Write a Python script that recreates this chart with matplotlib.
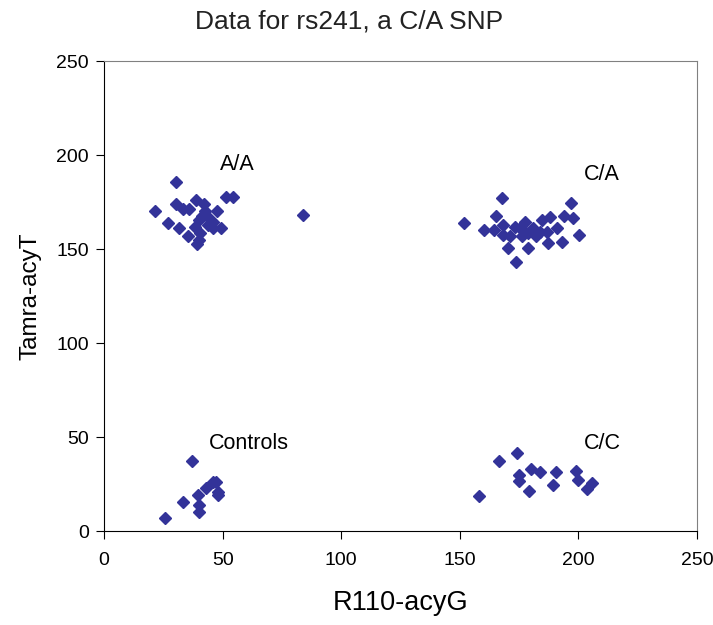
import matplotlib
matplotlib.use("Agg")
import matplotlib.pyplot as plt

plt.rcParams["font.family"] = ["Liberation Sans", "DejaVu Sans"]

# A/A cluster
aa_x = [30.2, 21.5, 30.2, 33.2, 36.0, 38.8, 42.3, 42.5, 47.5, 51.4, 54.2, 27.1, 31.6,
        35.5, 38.4, 40.2, 40.2, 46.1, 46.1, 49.2, 43.3, 41.3, 39.0, 84.0, 40.5, 44.0]
aa_y = [185.8, 170.2, 173.8, 171.3, 171.3, 175.9, 173.8, 170.0, 170.2, 177.5, 177.5, 163.7, 161.3,
        157.1, 161.9, 165.5, 154.8, 164.5, 161.0, 161.0, 167.5, 167.5, 152.5, 168.0, 158.5, 163.0]

# C/A cluster
ca_x = [151.8, 167.9, 165.3, 160.3, 164.5, 168.1, 168.4, 170.5, 173.7, 173.2, 175.4, 177.5,
        178.9, 178.9, 181.0, 183.8, 184.5, 186.6, 188.0, 187.3, 190.8, 193.0, 193.9, 196.8,
        197.6, 200.4, 171.0, 176.0, 182.0]
ca_y = [164.0, 177.0, 167.7, 160.1, 160.1, 162.8, 157.4, 150.4, 142.9, 161.9, 161.0, 164.5,
        158.4, 150.4, 161.0, 159.2, 165.4, 159.2, 167.2, 153.0, 161.0, 153.9, 167.7, 174.3,
        166.3, 157.4, 157.0, 157.0, 157.0]

# Controls
ctl_x = [37.2, 33.4, 25.7, 39.5, 40.2, 40.2, 43.0, 46.1, 47.2, 47.9, 48.1]
ctl_y = [37.4, 15.6, 6.7, 19.1, 13.8, 10.3, 22.7, 26.2, 26.0, 20.9, 19.0]

# C/C cluster
cc_x = [158.1, 166.5, 174.2, 175.1, 175.1, 180.0, 183.8, 179.3, 190.4, 189.4, 198.9, 200.0, 205.6, 203.5]
cc_y = [18.6, 37.4, 41.3, 29.8, 26.7, 32.8, 31.6, 21.4, 31.2, 24.5, 32.1, 27.1, 25.7, 22.2]

labels = ["A/A", "C/A", "Controls", "C/C"]
label_x = [48.9, 202.5, 44.3, 202.5]
label_y = [194.7, 189.4, 46.8, 46.8]

fig = plt.figure(figsize=(7.13, 6.25), dpi=100)
ax = fig.add_axes([0.1459, 0.1504, 0.8317, 0.752])

for xs, ys in [(aa_x, aa_y), (ca_x, ca_y), (ctl_x, ctl_y), (cc_x, cc_y)]:
    ax.plot(xs, ys, linestyle="none", marker="D", markersize=6,
            color="#333399", markeredgecolor="#333399")

for t, x, y in zip(labels, label_x, label_y):
    ax.text(x, y, t, fontsize=15.5, ha="left", va="center")

ax.set_xlim(0, 250)
ax.set_ylim(0, 250)
ax.set_xticks(range(0, 251, 50))
ax.set_yticks(range(0, 251, 50))
ax.tick_params(labelsize=14, direction="out", length=6)
ax.tick_params(axis="x", pad=9)
ax.tick_params(axis="y", pad=5)
ax.spines["top"].set_color("#808080")
ax.spines["right"].set_color("#808080")

fig.text(0.49, 0.965, "Data for rs241, a C/A SNP", fontsize=19, color="#222222",
         ha="center", va="center")
ax.set_xlabel("R110-acyG", fontsize=19.5)
ax.set_ylabel("Tamra-acyT", fontsize=17.5)
ax.xaxis.set_label_coords(0.5, -0.125)
ax.yaxis.set_label_coords(-0.106, 0.5)

fig.savefig("out.png", dpi=100)
